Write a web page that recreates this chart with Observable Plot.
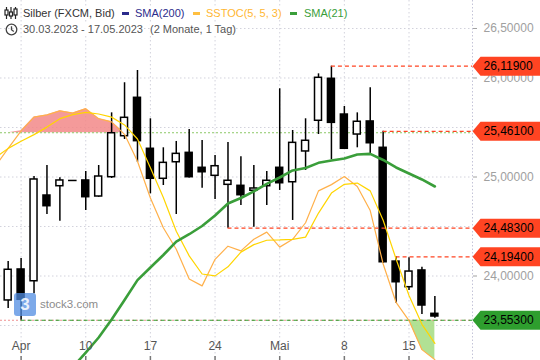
<!DOCTYPE html>
<html><head><meta charset="utf-8">
<script src="https://cdn.jsdelivr.net/npm/d3@7"></script>
<script src="https://cdn.jsdelivr.net/npm/@observablehq/plot@0.6"></script>
<style>
html,body{margin:0;padding:0;background:#fff;}
#wrap{position:relative;width:540px;height:360px;overflow:hidden;font-family:"Liberation Sans",Arial,sans-serif;}
.h{position:absolute;font-size:11px;line-height:13px;background:#fff;white-space:pre;}
.mk{position:absolute;height:3px;}
</style></head><body>
<div id="wrap">
<div id="chart"></div>
<svg style="position:absolute;left:4px;top:6px" width="14" height="14" viewBox="0 0 14 14">
 <g stroke="#222" stroke-width="1.2" fill="none">
  <line x1="2.5" y1="1" x2="2.5" y2="13"/><rect x="1" y="4" width="3" height="5" fill="#fff"/>
  <line x1="7" y1="1" x2="7" y2="13"/><rect x="5.5" y="6" width="3" height="4" fill="#fff"/>
  <line x1="11.5" y1="1" x2="11.5" y2="13"/><rect x="10" y="3" width="3" height="6" fill="#fff"/>
 </g></svg>
<div class="h" style="left:23px;top:7px;color:#333">Silber (FXCM, Bid)</div>
<div class="mk" style="left:122px;top:12px;width:7px;background:#2b2b8c"></div>
<div class="h" style="left:135px;top:7px;color:#2b2b8c">SMA(200)</div>
<div class="mk" style="left:193px;top:12px;width:7px;background:#ffbf40"></div>
<div class="h" style="left:206px;top:7px;color:#ffb733">SSTOC(5, 5, 3)</div>
<div class="mk" style="left:290px;top:12px;width:7px;background:#3a9e3a"></div>
<div class="h" style="left:304px;top:7px;color:#3a9e3a">SMA(21)</div>
<svg style="position:absolute;left:5px;top:23px" width="13" height="13" viewBox="0 0 13 13">
 <g stroke="#444" stroke-width="1.3" fill="none"><circle cx="6.5" cy="6.5" r="5.3"/><path d="M6.5 3.2 V6.8 L8.8 8.6"/></g></svg>
<div class="h" style="left:23px;top:23px;color:#555">30.03.2023 - 17.05.2023</div>
<div class="h" style="left:150px;top:23px;color:#555">(2 Monate, 1 Tag)</div>
<div style="position:absolute;left:14px;top:293px;width:22px;height:23px;border-radius:3px;background:rgba(80,140,225,0.75);color:rgba(255,255,255,0.85);font:bold 17px 'Liberation Sans',Arial;text-align:center;line-height:23px">3</div>
<div style="position:absolute;left:40px;top:298px;font-size:11.5px;color:#8c8c8c">stock3.com</div>
</div>
<script>
const dates = ["30.03.2023","31.03.2023","03.04.2023","04.04.2023","05.04.2023","06.04.2023","07.04.2023","10.04.2023","11.04.2023","12.04.2023","13.04.2023","14.04.2023","17.04.2023","18.04.2023","19.04.2023","20.04.2023","21.04.2023","24.04.2023","25.04.2023","26.04.2023","27.04.2023","28.04.2023","01.05.2023","02.05.2023","03.05.2023","04.05.2023","05.05.2023","08.05.2023","09.05.2023","10.05.2023","11.05.2023","12.05.2023","15.05.2023","16.05.2023","17.05.2023"];
const open  = [23.80,23.753,24.066,23.947,24.813,24.907,24.965,24.965,24.803,24.998,25.412,25.800,25.285,24.982,25.149,25.244,25.093,25.012,24.921,24.911,24.861,24.907,25.093,24.947,25.258,25.568,25.992,25.631,25.429,25.561,25.295,24.146,23.887,24.056,23.618];
const high  = [23.95,24.146,24.177,25.005,25.116,24.992,24.965,25.056,25.116,25.648,25.952,26.076,25.588,25.295,25.359,25.480,25.369,25.217,25.348,25.204,25.116,25.056,25.891,25.470,25.588,26.042,26.119,25.712,25.648,25.901,25.461,24.194,24.185,24.089,23.793];
const low   = [23.62,23.672,23.553,23.820,24.621,24.553,24.965,24.662,24.795,24.985,25.379,25.149,24.830,24.914,24.621,24.990,24.887,24.773,24.483,24.712,24.493,24.712,24.864,24.561,25.066,25.429,25.174,25.280,25.295,25.217,24.127,23.725,23.854,23.611,23.574];
const close = [23.70,24.063,23.760,24.975,24.705,24.965,24.965,24.796,25.005,25.442,25.598,25.362,24.982,25.143,25.234,24.998,25.048,25.109,24.962,24.816,24.884,24.962,24.937,25.345,25.366,26.002,25.547,25.285,25.558,25.341,24.139,23.937,24.045,23.702,23.591];
const stochK = [69.2,75.0,80.6,85.0,85.7,87.0,86.3,87.7,84.5,83.5,79.5,70.9,59.1,49.6,42.7,33.2,31.0,39.5,43.7,42.2,45.9,48.2,43.4,45.9,51.2,61.4,63.4,66.0,62.8,55.1,38.0,25.7,19.9,10.6,7.4];
const stochD = [72.0,75.0,77.3,79.4,81.8,84.5,85.8,86.5,86.0,85.0,82.5,78.0,68.8,59.3,48.5,40.6,34.8,34.2,37.1,41.8,44.2,45.6,45.7,45.9,46.6,54.3,60.7,63.5,63.9,61.4,52.0,39.6,27.9,18.7,12.6];
const sma21 = [null,null,null,null,null,22.934,23.079,23.227,23.379,23.561,23.758,23.958,24.086,24.212,24.348,24.422,24.505,24.611,24.732,24.788,24.854,24.930,24.995,25.066,25.091,25.143,25.167,25.187,25.227,25.234,25.172,25.096,25.035,24.975,24.904];
const yTickValues = [24, 25, 26, 26.5];
const yGridValues = [23.5, 24, 24.5, 25, 25.5, 26, 26.5];
const xTickDates = ["03.04.2023","10.04.2023","17.04.2023","24.04.2023","01.05.2023","08.05.2023","15.05.2023"];
const xTickLabels = ["Apr","10","17","24","Mai","8","15"];
const levelPrices = [26.119, 25.461, 24.483, 24.194, 23.553];
const levelFrom = ["05.05.2023","11.05.2023","25.04.2023","12.05.2023","03.04.2023"];
const levelColors = ["#ff4422","#ff4422","#ff4422","#ff4422","#2e9e2e"];
const stochLevels = [80, 20];

// stochastic overlay scale onto the price axis
const S_LO = 20, P_LO = 23.553, S_HI = 80, P_HI = 25.447;
const sToP = s => P_LO + (s - S_LO) * (P_HI - P_LO) / (S_HI - S_LO);

const rows = dates.map((d, i) => ({i, date: d, o: open[i], h: high[i], l: low[i], c: close[i], k: stochK[i], dd: stochD[i], sma: sma21[i]}));
const idx = d => dates.indexOf(d);
const xTicks = xTickDates.map((d, j) => ({i: idx(d), label: xTickLabels[j]}));
const levels = levelPrices.map((p, j) => ({p, from: idx(levelFrom[j]), color: levelColors[j]}));
const fmt = v => v.toFixed(5).replace(".", ",");

const XMIN = 0.407, XMAX = 36.91;
const arrowBox = {draw(ctx) { ctx.moveTo(0, 0); ctx.lineTo(8, -9.5); ctx.lineTo(68, -9.5); ctx.lineTo(68, 9.5); ctx.lineTo(8, 9.5); ctx.closePath(); }};
const vTick = {draw(ctx) { ctx.moveTo(0, -2.5); ctx.lineTo(0, 2.5); }};

const chart = Plot.plot({
  width: 540, height: 360,
  marginLeft: 0, marginRight: 68, marginTop: 0, marginBottom: 0,
  style: {fontFamily: "'Liberation Sans', Arial, sans-serif", background: "transparent", overflow: "hidden"},
  x: {type: "linear", domain: [XMIN, XMAX], axis: null},
  y: {domain: [23.1465, 26.7828], axis: null},
  marks: [
    Plot.ruleY(yGridValues, {stroke: "#d2d2dc", strokeDasharray: "1.5,2.5"}),
    Plot.ruleX(xTicks, {x: "i", stroke: "#d2d2dc", strokeDasharray: "1.5,2.5"}),
    Plot.ruleX([XMAX], {stroke: "#c4c4d8", strokeDasharray: "1.5,2"}),
    Plot.areaY(rows, {x: "i", y1: () => sToP(80), y2: d => sToP(Math.max(d.k, 80)), fill: "#f28888", fillOpacity: 0.85, clip: true}),
    Plot.areaY(rows, {x: "i", y1: () => sToP(20), y2: d => sToP(Math.min(d.k, 20)), fill: "#a9de88", fillOpacity: 0.9, clip: true}),
    Plot.ruleY([stochLevels[0]], {y: d => sToP(d), stroke: "#8cc866", strokeDasharray: "2,2"}),
    Plot.ruleY([stochLevels[1]], {y: d => sToP(d), stroke: "#f09090", strokeDasharray: "2,2"}),
    Plot.ruleX(rows, {x: "i", y1: "l", y2: "h", stroke: "#000", strokeWidth: 1.5, clip: true}),
    Plot.rect(rows.filter(d => d.o !== d.c), {x1: d => d.i - 0.27, x2: d => d.i + 0.27, y1: "o", y2: "c", fill: d => d.c > d.o ? "#ffffff" : "#000000", stroke: "#000", strokeWidth: 1.5, clip: true}),
    Plot.ruleY(rows.filter(d => d.o === d.c), {y: "o", x1: d => d.i - 0.33, x2: d => d.i + 0.33, stroke: "#000", strokeWidth: 1.5, clip: true}),
    Plot.ruleY(levels, {y: "p", x1: "from", x2: () => XMAX, stroke: "color", strokeDasharray: "4,3", strokeWidth: 1.2}),
    Plot.line(rows, {x: "i", y: d => sToP(d.k), stroke: "#ffb04a", strokeWidth: 1.2, clip: true}),
    Plot.line(rows, {x: "i", y: d => sToP(d.dd), stroke: "#ffd500", strokeWidth: 1.2, clip: true}),
    Plot.line(rows.filter(d => d.sma != null), {x: "i", y: "sma", stroke: "#3a9e3a", strokeWidth: 2.6, clip: true}),
    Plot.axisY(yTickValues, {anchor: "right", tickSize: 4, tickPadding: 7, tickFormat: fmt, color: "#a0a0a0", fontSize: 12}),
    Plot.dot(levels, {x: () => XMAX, y: "p", symbol: arrowBox, fill: "color", stroke: "none"}),
    Plot.text(levels, {x: () => XMAX, y: "p", text: d => fmt(d.p), dx: 11, textAnchor: "start", fill: "#000", fontSize: 12}),
    Plot.text(xTicks, {x: "i", text: "label", frameAnchor: "bottom", dy: -11, fill: "#555", fontSize: 12}),
    Plot.dot(xTicks, {x: "i", frameAnchor: "bottom", dy: -2, symbol: vTick, stroke: "#777", fill: "none"})
  ]
});
document.getElementById("chart").appendChild(chart);
</script>
</body></html>
